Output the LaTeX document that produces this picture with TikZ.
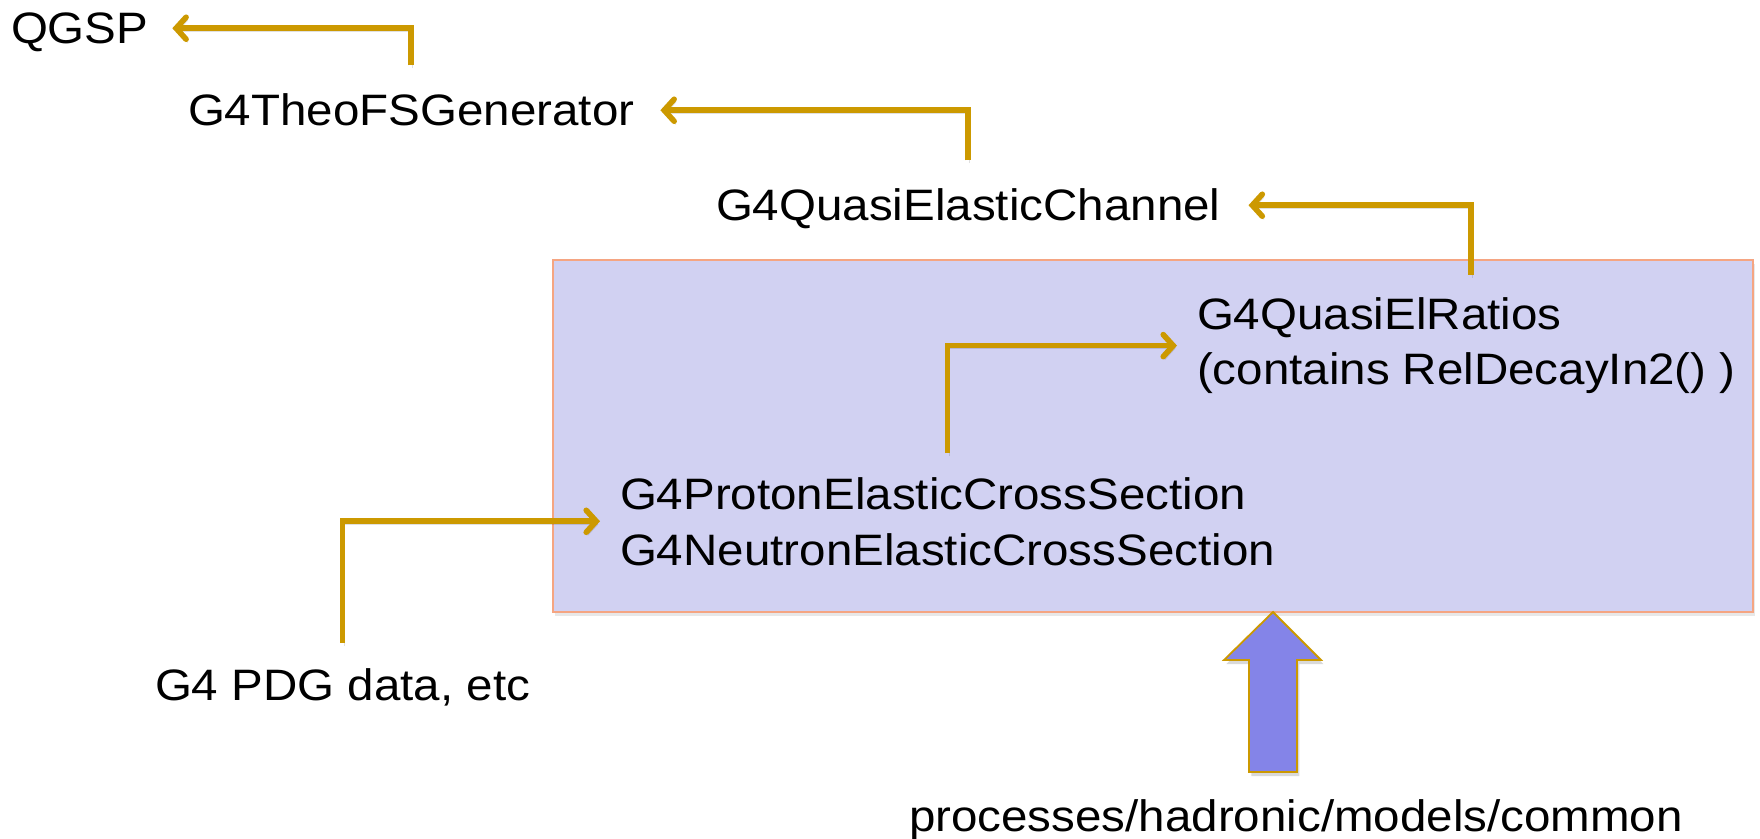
\documentclass[tikz,border=0pt]{standalone}
\usepackage{fontspec}
\setmainfont{Liberation Sans}[FakeStretch=1.08]
\usetikzlibrary{arrows.meta,shadows}
\definecolor{gold}{RGB}{204,153,0}
\definecolor{boxfill}{RGB}{209,209,242}
\definecolor{boxline}{RGB}{245,165,130}
\definecolor{blockfill}{RGB}{132,132,232}
\begin{document}
\begin{tikzpicture}[x=0.5pt,y=-0.5pt,
  lbl/.style={anchor=base west, inner sep=0pt, outer sep=0pt,
    font=\fontsize{22pt}{28pt}\selectfont, text height=15.75pt, text depth=0pt},
  lbltwo/.style={anchor=base west, inner sep=0pt, outer sep=0pt,
    font=\fontsize{22pt}{28pt}\selectfont, align=left},
  conn/.style={draw=gold, line width=2.8pt,
    -{Straight Barb[length=5pt,width=11pt,line cap=round]},
    preaction={draw=black, draw opacity=0.12, transform canvas={shift={(0.8pt,-1.5pt)}}}},
  panel/.style={draw=boxline, line width=0.8pt, fill=boxfill,
    drop shadow={opacity=0.18, shadow xshift=1pt, shadow yshift=-2pt},
    minimum width=600pt, minimum height=176pt, inner sep=0pt},
  blockarr/.style={draw=gold, line width=0.9pt, fill=blockfill, line join=miter,
    preaction={fill=black, opacity=0.15, transform canvas={shift={(1.2pt,-2pt)}}}}
]
\useasboundingbox (0,0) rectangle (1760,839);

% container box
\node[panel] (box) at (1153,436) {};

% labels
\node[lbl] (qgsp) at (11,44) {QGSP};
\node[lbl] (theo) at (188,126) {G4TheoFSGenerator};
\node[lbl] (qec) at (716,221) {G4QuasiElasticChannel};
\node[lbltwo] (ratios) at (1197,385) {G4QuasiElRatios\\(contains RelDecayIn2() )};
\node[lbltwo] (xs) at (620,565) {G4ProtonElasticCrossSection\\G4NeutronElasticCrossSection};
\node[lbl] (pdg) at (155,700) {G4 PDG data, etc};
\node[lbl] (proc) at (909,831) {processes/hadronic/models/common};

\coordinate (a3) at (1471,275);

% connectors
\draw[conn] ([yshift=14.5pt]theo.north) |- ([xshift=12pt]qgsp.east);
\draw[conn] ([yshift=14.5pt]qec.north) |- ([xshift=13pt]theo.east);
\draw[conn] (a3) |- ([xshift=14pt]qec.east);
\draw[conn] ([yshift=12pt]xs.north) |- ([xshift=-10pt]ratios.west);
\draw[conn] ([yshift=13pt]pdg.north) |- ([xshift=-10pt]xs.west);

% block arrow from common into the box
\draw[blockarr] (1249,772) -- (1249,660) -- (1224,660) -- (1273,612)
  -- (1321,660) -- (1297,660) -- (1297,772) -- cycle;
\end{tikzpicture}
\end{document}
